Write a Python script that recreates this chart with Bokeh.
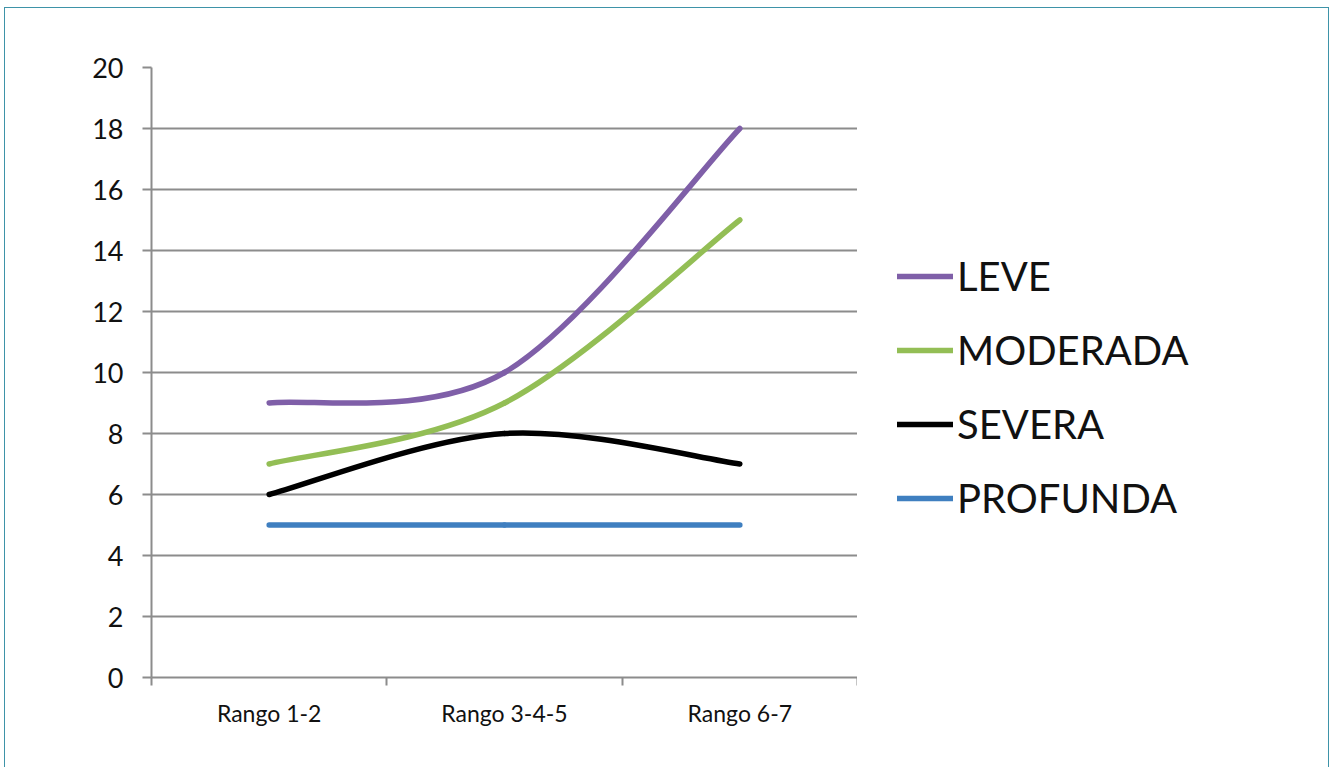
from bokeh.plotting import figure
from bokeh.models import Range1d, FixedTicker, Legend, LegendItem, ColumnDataSource
from bokeh.layouts import row
from bokeh.embed import file_html
from bokeh.resources import INLINE

categories = ["Rango 1-2", "Rango 3-4-5", "Rango 6-7"]
series_names = ["LEVE", "MODERADA", "SEVERA", "PROFUNDA"]
leve = [9, 10, 18]
moderada = [7, 9, 15]
severa = [6, 8, 7]
profunda = [5, 5, 5]
colors = ["#7F5FA8", "#93BE55", "#000000", "#3F7FC0"]
y_ticks = list(range(0, 21, 2))

p = figure(width=852, height=759, output_backend="svg", toolbar_location=None,
           x_range=Range1d(0, 3), y_range=Range1d(0, 20),
           min_border_left=146, min_border_top=59, min_border_right=0, min_border_bottom=90)
p.outline_line_color = None
p.background_fill_color = "white"

# axes
xs = [i + 0.5 for i in range(len(categories))]
p.xaxis.ticker = FixedTicker(ticks=xs, minor_ticks=[0, 1, 2, 3])
p.xaxis.major_label_overrides = {x: c for x, c in zip(xs, categories)}
p.xaxis.major_tick_line_color = None
p.xaxis.minor_tick_out = 8
p.xaxis.minor_tick_in = 0
p.xaxis.minor_tick_line_color = "#8C8C8C"
p.xaxis.minor_tick_line_width = 2
p.xaxis.axis_line_color = "#8C8C8C"
p.xaxis.axis_line_width = 2
p.xaxis.major_label_text_font = "Lato"
p.xaxis.major_label_text_font_size = "23px"
p.xaxis.major_label_text_color = "#111111"
p.xaxis.major_label_standoff = 13

p.yaxis.ticker = FixedTicker(ticks=y_ticks)
p.yaxis.minor_tick_line_color = None
p.yaxis.major_tick_out = 9
p.yaxis.major_tick_in = 0
p.yaxis.major_tick_line_color = "#8C8C8C"
p.yaxis.major_tick_line_width = 2
p.yaxis.axis_line_color = "#8C8C8C"
p.yaxis.axis_line_width = 2
p.yaxis.major_label_text_font = "Lato"
p.yaxis.major_label_text_font_size = "27px"
p.yaxis.major_label_text_color = "#111111"
p.yaxis.major_label_standoff = 19

p.xgrid.grid_line_color = None
p.ygrid.ticker = FixedTicker(ticks=y_ticks)
p.ygrid.grid_line_color = "#8C8C8C"
p.ygrid.grid_line_width = 2

# legend panel (separate canvas so the legend is not clipped by the plot frame)
lg = figure(width=471, height=759, output_backend="svg", toolbar_location=None,
            x_range=Range1d(0, 1), y_range=Range1d(0, 1),
            min_border_left=0, min_border_top=0, min_border_right=0, min_border_bottom=0)
lg.axis.visible = False
lg.grid.visible = False
lg.outline_line_color = None

# smoothed lines (Catmull-Rom style Bezier, as in spreadsheet "smoothed line")
all_series = [leve, moderada, severa, profunda]
items = []
for name, vals, col in zip(series_names, all_series, colors):
    n = len(vals)
    x0, y0, x1, y1, cx0, cy0, cx1, cy1 = [], [], [], [], [], [], [], []
    for i in range(n - 1):
        pm = vals[i - 1] if i > 0 else vals[i]
        pxm = xs[i - 1] if i > 0 else xs[i]
        pp = vals[i + 2] if i + 2 < n else vals[i + 1]
        pxp = xs[i + 2] if i + 2 < n else xs[i + 1]
        x0.append(xs[i]); y0.append(vals[i])
        x1.append(xs[i + 1]); y1.append(vals[i + 1])
        cx0.append(xs[i] + (xs[i + 1] - pxm) / 6); cy0.append(vals[i] + (vals[i + 1] - pm) / 6)
        cx1.append(xs[i + 1] - (pxp - xs[i]) / 6); cy1.append(vals[i + 1] - (pp - vals[i]) / 6)
    src = ColumnDataSource(dict(x0=x0, y0=y0, x1=x1, y1=y1, cx0=cx0, cy0=cy0, cx1=cx1, cy1=cy1))
    p.bezier(x0="x0", y0="y0", x1="x1", y1="y1", cx0="cx0", cy0="cy0", cx1="cx1", cy1="cy1",
             source=src, line_color=col, line_width=5.5, line_cap="round")
    r = lg.line([-1], [-1], line_color=col, line_width=5.5, line_cap="round")
    items.append(LegendItem(label=name, renderers=[r]))

legend = Legend(items=items, location=(40, 155), glyph_width=56, glyph_height=20,
                label_standoff=4, spacing=26, padding=0, margin=0,
                label_text_font="Lato", label_text_font_size="40px",
                label_text_color="#111111", border_line_color=None,
                background_fill_alpha=0)
lg.add_layout(legend, "center")

layout = row(p, lg, spacing=0)
layout.styles = {"border": "1.5px solid #3E93A8", "margin": "7px 0px 0px 4px"}

open("out.html", "w").write(file_html(layout, INLINE))
